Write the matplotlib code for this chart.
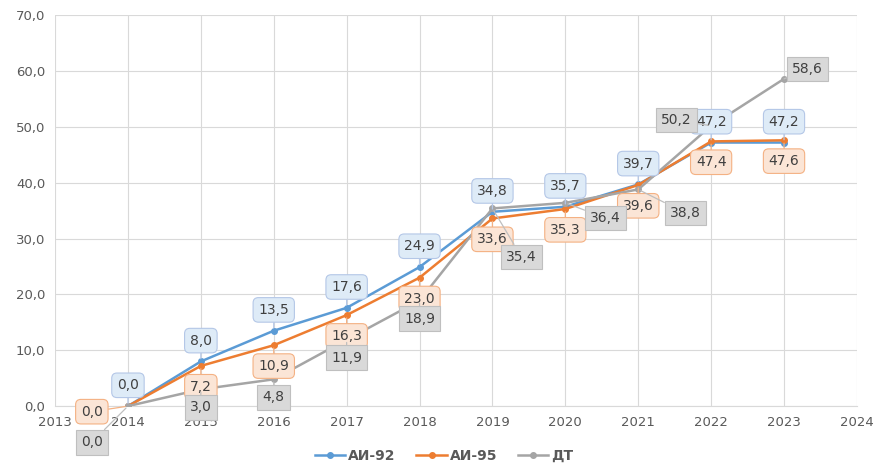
import matplotlib.pyplot as plt
from matplotlib.ticker import FuncFormatter

years = [2014, 2015, 2016, 2017, 2018, 2019, 2020, 2021, 2022, 2023]
ai92 = [0.0, 8.0, 13.5, 17.6, 24.9, 34.8, 35.7, 39.7, 47.2, 47.2]
ai95 = [0.0, 7.2, 10.9, 16.3, 23.0, 33.6, 35.3, 39.6, 47.4, 47.6]
dt = [0.0, 3.0, 4.8, 11.9, 18.9, 35.4, 36.4, 38.8, 50.2, 58.6]

# label offsets in points (x, y) for each series
off92 = [(0, 15)] * 10
off95 = [(-26, -4)] + [(0, -15)] * 9
offdt = [(-26, -26), (0, -13), (0, -13), (0, -13), (0, -13),
         (21, -35), (29, -11), (34, -17), (-25, 4), (17, 7)]

series = [
    ("АИ-92", ai92, "#5B9BD5", "#DEEBF7", "#B4C7E7", "round,pad=0.38", off92),
    ("АИ-95", ai95, "#ED7D31", "#FBE5D6", "#F4B183", "round,pad=0.38", off95),
    ("ДТ", dt, "#A5A5A5", "#D9D9D9", "#BFBFBF", "square,pad=0.38", offdt),
]

def comma(v, pos):
    return f"{v:.1f}".replace(".", ",")

fig = plt.figure(figsize=(8.88, 4.75), dpi=100)
ax = fig.add_axes([0.062, 0.145, 0.903, 0.823])

for name, vals, col, face, edge, style, offs in series:
    ax.plot(years, vals, color=col, lw=1.8, marker="o", ms=4, label=name, zorder=3)

for name, vals, col, face, edge, style, offs in series:
    for x, v, o in zip(years, vals, offs):
        ax.annotate(comma(v, None), (x, v), xytext=o, textcoords="offset points",
                    ha="center", va="center", fontsize=10, color="#404040",
                    bbox=dict(boxstyle=style, fc=face, ec=edge, lw=0.8),
                    arrowprops=dict(arrowstyle="-", color=edge, lw=0.9,
                                    shrinkA=0, shrinkB=2),
                    zorder=4)

ax.set_xlim(2013, 2024)
ax.set_ylim(0, 70)
ax.set_xticks(range(2013, 2025))
ax.set_yticks(range(0, 71, 10))
ax.yaxis.set_major_formatter(FuncFormatter(comma))
ax.grid(True, color="#D9D9D9", lw=0.8)
ax.set_axisbelow(True)
for s in ["top", "right", "left"]:
    ax.spines[s].set_visible(False)
ax.spines["bottom"].set_color("#D9D9D9")
ax.tick_params(length=0, labelsize=9.5, labelcolor="#595959", pad=7)

leg = fig.legend(loc="lower center", ncol=3, frameon=False, bbox_to_anchor=(0.5, 0.0),
                 prop={"weight": "bold", "size": 10}, handlelength=2.2,
                 handletextpad=0.2, columnspacing=1.5)
for t in leg.get_texts():
    t.set_color("#595959")

fig.savefig("out.png", dpi=100)
